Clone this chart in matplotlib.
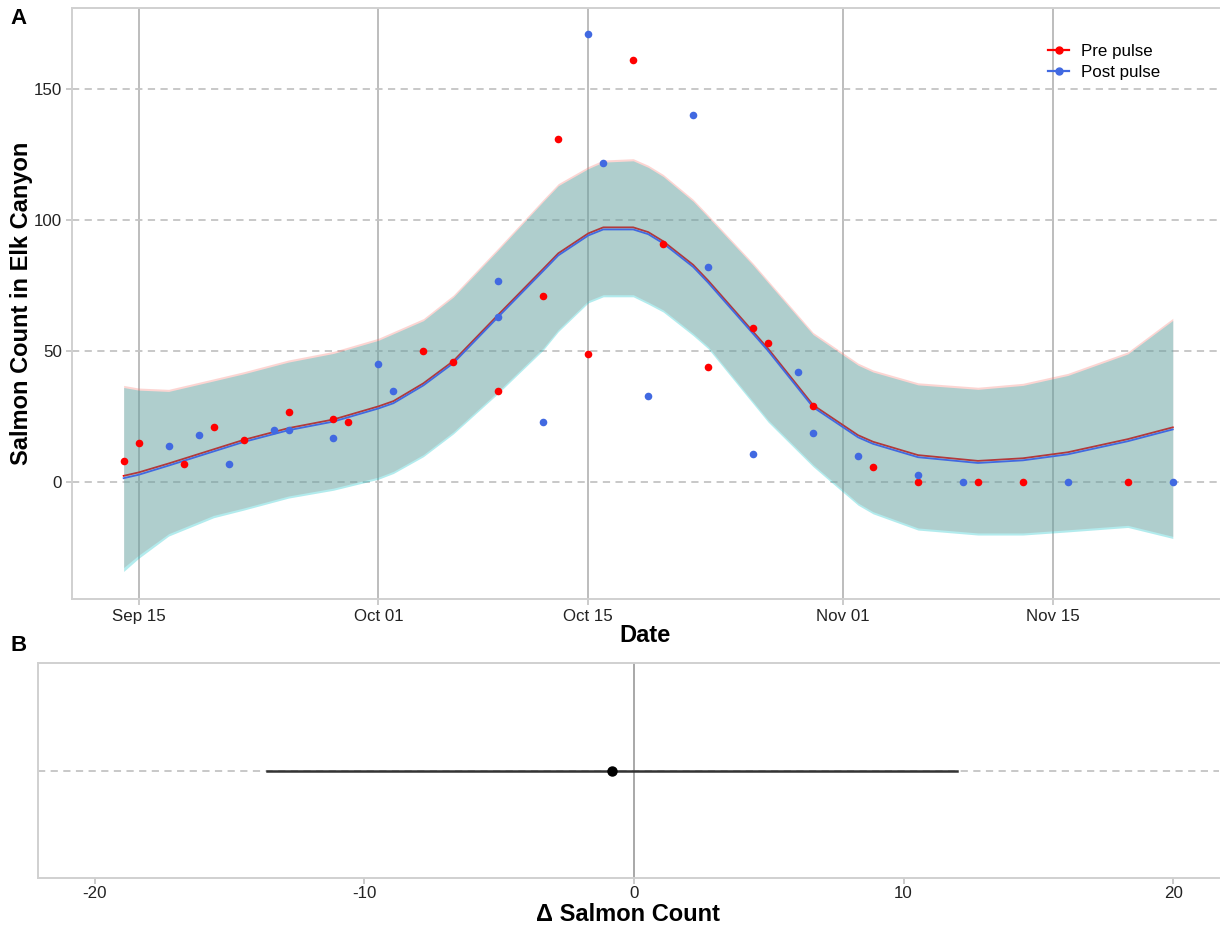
import pandas as pd
import matplotlib.pyplot as plt
import matplotlib.dates as mdates
from matplotlib.lines import Line2D

plt.rcParams['font.family'] = ['Liberation Sans', 'DejaVu Sans']
plt.rcParams['axes.unicode_minus'] = False

# %% Counts by survey date
pre_dates = ['09-14', '09-15', '09-18', '09-20', '09-22', '09-25', '09-28',
             '09-29', '10-04', '10-06', '10-09', '10-12', '10-13', '10-15',
             '10-18', '10-20', '10-23', '10-26', '10-27', '10-30', '11-03',
             '11-06', '11-10', '11-13', '11-20']
pre_count = [8, 15, 7, 21, 16, 27, 24, 23, 50, 46, 35, 71, 131, 49, 161,
             91, 44, 59, 53, 29, 6, 0, 0, 0, 0]

post_dates = ['09-17', '09-19', '09-21', '09-24', '09-25', '09-28', '10-01',
              '10-02', '10-09', '10-09', '10-12', '10-15', '10-16', '10-19',
              '10-22', '10-23', '10-26', '10-29', '10-30', '11-02', '11-06',
              '11-09', '11-16', '11-23']
post_count = [14, 18, 7, 20, 20, 17, 45, 35, 63, 77, 23, 171, 122, 33, 140,
              82, 11, 42, 19, 10, 3, 0, 0, 0]

# %% Smoothed fits with confidence bands
fit_dates = ['09-14', '09-15', '09-17', '09-20', '09-22', '09-25', '09-28',
             '10-01', '10-02', '10-04', '10-06', '10-09', '10-12', '10-13',
             '10-15', '10-16', '10-18', '10-19', '10-20', '10-22', '10-23',
             '10-26', '10-27', '10-30', '11-02', '11-03', '11-06', '11-10',
             '11-13', '11-16', '11-20', '11-23']
pre_fit = [2.5, 3.8, 7.2, 12.6, 16.2, 20.7, 24.0, 29.0, 31.0, 37.8, 46.3,
           64.0, 81.5, 87.4, 95.0, 97.3, 97.3, 95.5, 92.0, 83.0, 77.0, 57.5,
           51.0, 29.5, 18.0, 15.5, 10.4, 8.2, 9.2, 11.5, 16.5, 21.0]
post_fit = [1.6, 2.9, 6.4, 11.8, 15.4, 19.9, 23.2, 28.2, 30.2, 37.0, 45.5,
            63.2, 80.7, 86.6, 94.2, 96.5, 96.5, 94.7, 91.2, 82.2, 76.2, 56.7,
            50.2, 28.7, 17.2, 14.7, 9.6, 7.4, 8.4, 10.7, 15.7, 20.2]
pre_hi = [37.0, 36.0, 35.5, 39.5, 42.2, 46.7, 50.0, 55.0, 57.5, 62.5, 71.5,
          89.5, 108.0, 114.0, 120.5, 123.0, 123.5, 121.0, 117.5, 108.0, 102.0,
          83.6, 77.0, 57.2, 45.5, 42.9, 38.0, 36.3, 37.8, 41.6, 49.8, 62.6]
pre_lo = [-32.5, -27.8, -19.6, -12.6, -9.8, -5.2, -2.2, 2.0, 4.2, 10.6, 19.3,
          34.8, 51.3, 58.3, 69.3, 71.6, 71.6, 68.8, 65.8, 56.8, 51.8, 30.8,
          23.8, 6.8, -7.9, -11.2, -17.4, -19.3, -19.3, -18.1, -16.4, -20.6]
post_hi = [36.2, 35.2, 34.7, 38.7, 41.4, 45.9, 49.2, 54.2, 56.7, 61.7, 70.7,
           88.7, 107.2, 113.2, 119.7, 122.2, 122.7, 120.2, 116.7, 107.2, 101.2,
           82.8, 76.2, 56.4, 44.7, 42.1, 37.2, 35.5, 37.0, 40.8, 49.0, 61.8]
post_lo = [-34.0, -29.0, -20.5, -13.5, -10.6, -6.0, -3.0, 1.2, 3.4, 9.8, 18.5,
           34.0, 50.5, 57.5, 68.5, 70.8, 70.8, 68.0, 65.0, 56.0, 51.0, 30.0,
           23.0, 6.0, -8.7, -12.0, -18.2, -20.1, -20.1, -18.9, -17.2, -21.4]

# %% Difference estimate
diff_est = -0.8
diff_lo = -13.6
diff_hi = 12.0


def to_dt(days):
    return pd.to_datetime(['2021-' + d for d in days])


pre_x = to_dt(pre_dates)
post_x = to_dt(post_dates)
fit_x = to_dt(fit_dates)

W, H = 1221, 930
fig = plt.figure(figsize=(W / 100, H / 100), dpi=100)
ax = fig.add_axes([71.7 / W, (H - 599) / H, (1219 - 71.7) / W, (599 - 8) / H])
axb = fig.add_axes([38 / W, (H - 878) / H, (1219 - 38) / W, (878 - 663) / H])

grid_col = '#c4c4c4'
spine_col = '#d0d0d0'

# %% Panel A
ax.fill_between(fit_x, pre_lo, pre_hi, color='#F8766D', alpha=0.3, lw=0, zorder=2)
ax.plot(fit_x, pre_fit, color='red', lw=1.3, zorder=2.1)
ax.fill_between(fit_x, post_lo, post_hi, color='#00BFC4', alpha=0.3, lw=0, zorder=2.2)
ax.plot(fit_x, post_fit, color='royalblue', lw=1.3, zorder=2.3)

ax.scatter(pre_x, pre_count, s=30, color='red', lw=0, zorder=3)
ax.scatter(post_x, post_count, s=30, color='royalblue', lw=0, zorder=3)

ax.set_xlim(pd.Timestamp('2021-09-10 12:50'), pd.Timestamp('2021-11-26 02:00'))
ax.set_ylim(-44.5, 181)
ax.set_yticks([0, 50, 100, 150])
ax.set_xticks(pd.to_datetime(['2021-09-15', '2021-10-01', '2021-10-15',
                              '2021-11-01', '2021-11-15']))
ax.xaxis.set_major_formatter(mdates.DateFormatter('%b %d'))
ax.grid(axis='x', color='#bdbdbd', lw=1.4, zorder=1)
ax.grid(axis='y', color=grid_col, lw=1.3, ls=(0, (4, 3)), zorder=1)
ax.set_axisbelow(True)
for s in ax.spines.values():
    s.set_color(spine_col)
    s.set_linewidth(1.4)
ax.spines['right'].set_visible(False)
ax.tick_params(colors='#bdbdbd', labelcolor='#222222', labelsize=12.2,
               length=4, width=1.1, pad=3)
ax.set_xlabel('Date', fontsize=17, fontweight='bold', labelpad=0)
ax.set_ylabel('Salmon Count in Elk Canyon', fontsize=17, fontweight='bold')
ax.yaxis.set_label_coords(-0.034, 0.5)

handles = [Line2D([], [], color='red', marker='o', ms=5, lw=1.6),
           Line2D([], [], color='royalblue', marker='o', ms=5, lw=1.6)]
ax.legend(handles, ['Pre pulse', 'Post pulse'], loc='upper left',
          bbox_to_anchor=(0.838, 0.965), frameon=False, fontsize=12.2,
          handlelength=1.2, handletextpad=0.7, labelspacing=0.35)

fig.text(10 / W, 1 - 18 / H, 'A', fontsize=16, fontweight='bold', va='center')

# %% Panel B
axb.axhline(0, color=grid_col, lw=1.3, ls=(0, (4, 3)), zorder=1)
axb.axvline(0, color='#9a9a9a', lw=1.2, zorder=1.5)
axb.plot([diff_lo, diff_hi], [0, 0], color='#333333', lw=1.8, zorder=2)
axb.plot([diff_est], [0], 'o', color='black', ms=6.5, zorder=3)
axb.set_xlim(-22.1, 21.7)
axb.set_ylim(-1, 1)
axb.set_xticks([-20, -10, 0, 10, 20])
axb.set_yticks([])
for s in axb.spines.values():
    s.set_color(spine_col)
    s.set_linewidth(1.4)
axb.spines['right'].set_visible(False)
axb.tick_params(colors='#bdbdbd', labelcolor='#222222', labelsize=12.2,
                length=4, width=1.1, pad=2)
axb.set_xlabel('\u0394 Salmon Count', fontsize=17, fontweight='bold',
               labelpad=1)

fig.text(10 / W, 1 - 645 / H, 'B', fontsize=16, fontweight='bold', va='center')

fig.savefig('out.png', dpi=100, facecolor='white')
